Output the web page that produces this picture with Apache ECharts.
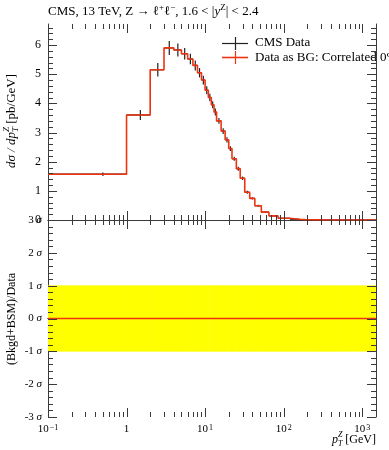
<!DOCTYPE html>
<html><head><meta charset="utf-8">
<script src="https://cdn.jsdelivr.net/npm/echarts@6/dist/echarts.min.js"></script>
<style>html,body{margin:0;padding:0;background:#fff}#c{width:389px;height:450px}</style>
</head><body><div id="c"></div>
<script>
// ---------------- data ----------------
const X_MIN = 0.1, X_MAX = 1500;
const binEdges = [0,1,2,3,4,5,6,7,8,9,10,11,12,13,14,16,18,20,22,25,28,32,37,43,52,65,85,120,160,190,220,250,300,400,500,800,1500];
const cmsValues = [1.57,3.60,5.15,5.90,5.83,5.70,5.52,5.30,5.05,4.80,4.45,4.20,3.95,3.70,3.40,3.05,2.75,2.45,2.10,1.76,1.43,0.95,0.74,0.49,0.27,0.14,0.06,0.025,0.012,0.007,0.0045,0.0028,0.0012,0.0005,0.00015,0.00002];
const cmsErrors = [0.06,0.17,0.23,0.24,0.22,0.20,0.18,0.17,0.16,0.15,0.14,0.13,0.12,0.12,0.10,0.10,0.09,0.08,0.07,0.07,0.06,0.05,0.04,0.03,0.02,0.01,0.005,0.003,0.002,0.001,0.001,0.001,0.0005,0.0002,0.0001,0.00001];
const bgValues = [1.57,3.60,5.15,5.90,5.83,5.70,5.52,5.30,5.05,4.80,4.45,4.20,3.95,3.70,3.40,3.05,2.75,2.45,2.10,1.76,1.43,0.95,0.74,0.49,0.27,0.14,0.06,0.025,0.012,0.007,0.0045,0.0028,0.0012,0.0005,0.00015,0.00002];
const ratioValues = [0,0,0,0,0,0,0,0,0,0,0,0,0,0,0,0,0,0,0,0,0,0,0,0,0,0,0,0,0,0,0,0,0,0,0,0];
const bandLow  = [-1,-1,-1,-1,-1,-1,-1,-1,-1,-1,-1,-1,-1,-1,-1,-1,-1,-1,-1,-1,-1,-1,-1,-1,-1,-1,-1,-1,-1,-1,-1,-1,-1,-1,-1,-1];
const bandHigh = [1,1,1,1,1,1,1,1,1,1,1,1,1,1,1,1,1,1,1,1,1,1,1,1,1,1,1,1,1,1,1,1,1,1,1,1];
const xTickValues = [0.1, 1, 10, 100, 1000];
const xTickLabels = ['10{sup|\u22121}', '1', '10{sup|1}', '10{sup|2}', '10{sup|3}'];
const topYTicks = [0, 1, 2, 3, 4, 5, 6];
const ratioYTicks = [-3, -2, -1, 0, 1, 2, 3];
const ratioYLabels = ['-3', '-2', '-1', '0', '1', '2', '3'];
const TOP_Y_MAX = 6.72;

// ---------------- helpers ----------------
const FONT = '"Liberation Serif", "DejaVu Serif", serif';
const FRAME = '#3a3a3a';
const mctx = document.createElement('canvas').getContext('2d');
function textW(t, size, style) { mctx.font = (style || 'normal') + ' ' + size + 'px ' + FONT; return mctx.measureText(t).width; }
function composedText(segs, x, y, rotation, align) {
  let cx = 0, lastX = 0; const kids = [];
  segs.forEach(s => {
    const w = textW(s.t, s.size, s.style);
    const sx = s.stack ? lastX : cx;
    kids.push({type: 'text', x: sx, y: s.dy || 0, style: {text: s.t, font: (s.style || 'normal') + ' ' + s.size + 'px ' + FONT, fill: '#000', textAlign: 'left', align: 'left', textVerticalAlign: 'middle', verticalAlign: 'middle'}});
    if (s.stack) cx = Math.max(cx, sx + w); else { lastX = cx; cx += w; }
  });
  const off = align === 'right' ? -cx : (align === 'center' ? -cx / 2 : 0);
  kids.forEach(k => k.x += off);
  return {type: 'group', x: x, y: y, rotation: rotation || 0, children: kids, z: 100};
}

const edgesPlot = binEdges.map(e => Math.max(e, X_MIN));
function stepData(vals) {
  const d = vals.map((v, i) => [edgesPlot[i], v]);
  d.push([edgesPlot[edgesPlot.length - 1], vals[vals.length - 1]]);
  return d;
}
const errData = cmsValues.map((v, i) => [(binEdges[i] + binEdges[i + 1]) / 2, v, cmsErrors[i], edgesPlot[i], edgesPlot[i + 1]]);
const bandData = bandLow.map((lo, i) => [edgesPlot[i], lo, edgesPlot[i + 1], bandHigh[i]]);

const minorX = [];
[0.1, 1, 10, 100, 1000].forEach(d => { for (let k = 2; k <= 9; k++) if (d * k < X_MAX) minorX.push(d * k); });
function tickData(yMin, yMajor, yMinor) {
  const out = [];
  xTickValues.forEach(v => out.push([v, yMin, 0, 1]));
  minorX.forEach(v => out.push([v, yMin, 0, 0]));
  yMajor.forEach(v => out.push([X_MIN, v, 1, 1]));
  yMinor.forEach(v => out.push([X_MIN, v, 1, 0]));
  return out;
}
const topMinorY = []; for (let i = 1; i * 0.2 < TOP_Y_MAX; i++) if (i % 5) topMinorY.push(i * 0.2);
const botMinorY = []; for (let i = -14; i <= 14; i++) if (i % 5) botMinorY.push(i * 0.2);

function renderTicks(params, api) {
  const cs = params.coordSys;
  const kind = api.value(2), major = api.value(3);
  const len = major ? 9 : 5;
  const st = {stroke: FRAME, lineWidth: 1};
  if (kind === 0) {
    const px = Math.round(api.coord([api.value(0), api.value(1)])[0]) + 0.5;
    const top = cs.y, bot = cs.y + cs.height;
    return {type: 'group', children: [
      {type: 'line', shape: {x1: px, y1: top, x2: px, y2: top + len}, style: st},
      {type: 'line', shape: {x1: px, y1: bot, x2: px, y2: bot - len}, style: st}]};
  }
  const py = Math.round(api.coord([api.value(0), api.value(1)])[1]) + 0.5;
  const l = cs.x, r = cs.x + cs.width;
  return {type: 'group', children: [
    {type: 'line', shape: {x1: l, y1: py, x2: l + len, y2: py}, style: st},
    {type: 'line', shape: {x1: r, y1: py, x2: r - len, y2: py}, style: st}]};
}

function renderErr(params, api) {
  const c = api.coord([api.value(0), api.value(1)]);
  const up = api.coord([api.value(0), api.value(1) + api.value(2)]);
  const dn = api.coord([api.value(0), api.value(1) - api.value(2)]);
  const lo = api.coord([api.value(3), api.value(1)]);
  const hi = api.coord([api.value(4), api.value(1)]);
  const st = {stroke: '#222', lineWidth: 1.2};
  return {type: 'group', children: [
    {type: 'line', shape: {x1: c[0], y1: up[1], x2: c[0], y2: dn[1]}, style: st},
    {type: 'line', shape: {x1: lo[0], y1: c[1], x2: hi[0], y2: c[1]}, style: st}]};
}

function renderBand(params, api) {
  const a = api.coord([api.value(0), api.value(3)]);
  const b = api.coord([api.value(2), api.value(1)]);
  return {type: 'rect', shape: {x: a[0], y: a[1], width: b[0] - a[0], height: b[1] - a[1]}, style: {fill: '#ffff00', stroke: '#ffff00', lineWidth: 0.6}};
}

function xLabelFmt(v) {
  const i = xTickValues.findIndex(t => Math.abs(Math.log10(t) - Math.log10(v)) < 1e-6);
  return i >= 0 ? xTickLabels[i] : '';
}

const axisLineFrame = {show: true, lineStyle: {color: FRAME, width: 1}};
function xAx(grid, pos, labels) {
  return {type: 'log', logBase: 10, gridIndex: grid, position: pos, min: X_MIN, max: X_MAX,
    axisLine: axisLineFrame, axisTick: {show: false}, splitLine: {show: false}, minorTick: {show: false},
    axisLabel: labels ? {show: true, formatter: xLabelFmt, fontFamily: FONT, fontSize: 11, color: '#000', margin: 7,
      rich: {sup: {fontSize: 8, fontFamily: FONT, verticalAlign: 'top', lineHeight: 8, padding: [0, 0, 0, 1]}}} : {show: false}};
}

const option = {
  animation: false,
  backgroundColor: '#fff',
  grid: [
    {left: 48, right: 13, top: 24, height: 196},
    {left: 48, right: 13, top: 220, height: 197}
  ],
  xAxis: [xAx(0, 'bottom', false), xAx(0, 'top', false), xAx(1, 'bottom', true), xAx(1, 'top', false)],
  yAxis: [
    {type: 'value', gridIndex: 0, position: 'left', min: 0, max: TOP_Y_MAX, interval: 1,
      axisLine: axisLineFrame, axisTick: {show: false}, splitLine: {show: false},
      axisLabel: {formatter: v => topYTicks.indexOf(v) >= 0 ? String(v) : '', fontFamily: FONT, fontSize: 12, color: '#000', margin: 7}},
    {type: 'value', gridIndex: 0, position: 'right', min: 0, max: TOP_Y_MAX, interval: 1,
      axisLine: axisLineFrame, axisTick: {show: false}, splitLine: {show: false}, axisLabel: {show: false}},
    {type: 'value', gridIndex: 1, position: 'left', min: -3, max: 3, interval: 1,
      axisLine: axisLineFrame, axisTick: {show: false}, splitLine: {show: false},
      axisLabel: {formatter: v => { const i = ratioYTicks.indexOf(v); return i >= 0 ? ratioYLabels[i] + ' {s|\u03c3}' : ''; },
        fontFamily: FONT, fontSize: 11, color: '#000', margin: 6,
        rich: {s: {fontStyle: 'italic', fontFamily: FONT, fontSize: 11}}}},
    {type: 'value', gridIndex: 1, position: 'right', min: -3, max: 3, interval: 1,
      axisLine: axisLineFrame, axisTick: {show: false}, splitLine: {show: false}, axisLabel: {show: false}}
  ],
  series: [
    {type: 'custom', name: 'CMS Data', xAxisIndex: 0, yAxisIndex: 0, data: errData, renderItem: renderErr, clip: false, z: 3},
    {type: 'line', name: 'Data as BG', xAxisIndex: 0, yAxisIndex: 0, data: stepData(bgValues), step: 'end',
      symbol: 'none', lineStyle: {color: '#ee3311', width: 1.6}, z: 4},
    {type: 'custom', name: 'band', xAxisIndex: 2, yAxisIndex: 2, data: bandData, renderItem: renderBand, clip: true, z: 1},
    {type: 'line', name: 'ratio', xAxisIndex: 2, yAxisIndex: 2, data: stepData(ratioValues), step: 'end',
      symbol: 'none', lineStyle: {color: '#ee3311', width: 1.6}, z: 4},
    {type: 'custom', name: 'ticksTop', xAxisIndex: 0, yAxisIndex: 0, data: tickData(0, topYTicks, topMinorY), renderItem: renderTicks, clip: false, z: 10, silent: true},
    {type: 'custom', name: 'ticksBot', xAxisIndex: 2, yAxisIndex: 2, data: tickData(-3, ratioYTicks, botMinorY), renderItem: renderTicks, clip: false, z: 10, silent: true}
  ],
  graphic: [
    composedText([
      {t: 'CMS, 13 TeV, Z \u2192 \u2113', size: 13},
      {t: '+', size: 9, dy: -4},
      {t: '\u2113', size: 13},
      {t: '\u2212', size: 9, dy: -4},
      {t: ', 1.6 < |', size: 13},
      {t: 'y', size: 13, style: 'italic'},
      {t: 'Z', size: 9, dy: -4},
      {t: '| < 2.4', size: 13}
    ], 48, 12, 0, 'left'),
    // legend
    {type: 'line', shape: {x1: 222, y1: 43.5, x2: 248, y2: 43.5}, style: {stroke: '#222', lineWidth: 1.2}, z: 100},
    {type: 'line', shape: {x1: 235.5, y1: 37, x2: 235.5, y2: 50}, style: {stroke: '#222', lineWidth: 1.2}, z: 100},
    composedText([{t: 'CMS Data', size: 13}], 255, 43, 0, 'left'),
    {type: 'line', shape: {x1: 222, y1: 57.5, x2: 248, y2: 57.5}, style: {stroke: '#ee3311', lineWidth: 1.6}, z: 100},
    {type: 'line', shape: {x1: 235.5, y1: 51, x2: 235.5, y2: 64}, style: {stroke: '#ee3311', lineWidth: 1.2}, z: 100},
    composedText([{t: 'Data as BG: Correlated 0%', size: 13}], 255, 58, 0, 'left'),
    // y labels
    composedText([
      {t: 'd\u03c3 / dp', size: 13, style: 'italic'},
      {t: 'Z', size: 9, style: 'italic', dy: -5},
      {t: 'T', size: 9, style: 'italic', dy: 4, stack: true},
      {t: ' [pb/GeV]', size: 13}
    ], 12, 121, Math.PI / 2, 'center'),
    composedText([{t: '(Bkgd+BSM)/Data', size: 12}], 12, 319, Math.PI / 2, 'center'),
    // x label
    composedText([
      {t: 'p', size: 12, style: 'italic'},
      {t: 'Z', size: 8, style: 'italic', dy: -5},
      {t: 'T', size: 8, style: 'italic', dy: 4, stack: true},
      {t: ' [GeV]', size: 12}
    ], 376, 440, 0, 'right')
  ]
};
const chart = echarts.init(document.getElementById('c'));
chart.setOption(option);
</script></body></html>
